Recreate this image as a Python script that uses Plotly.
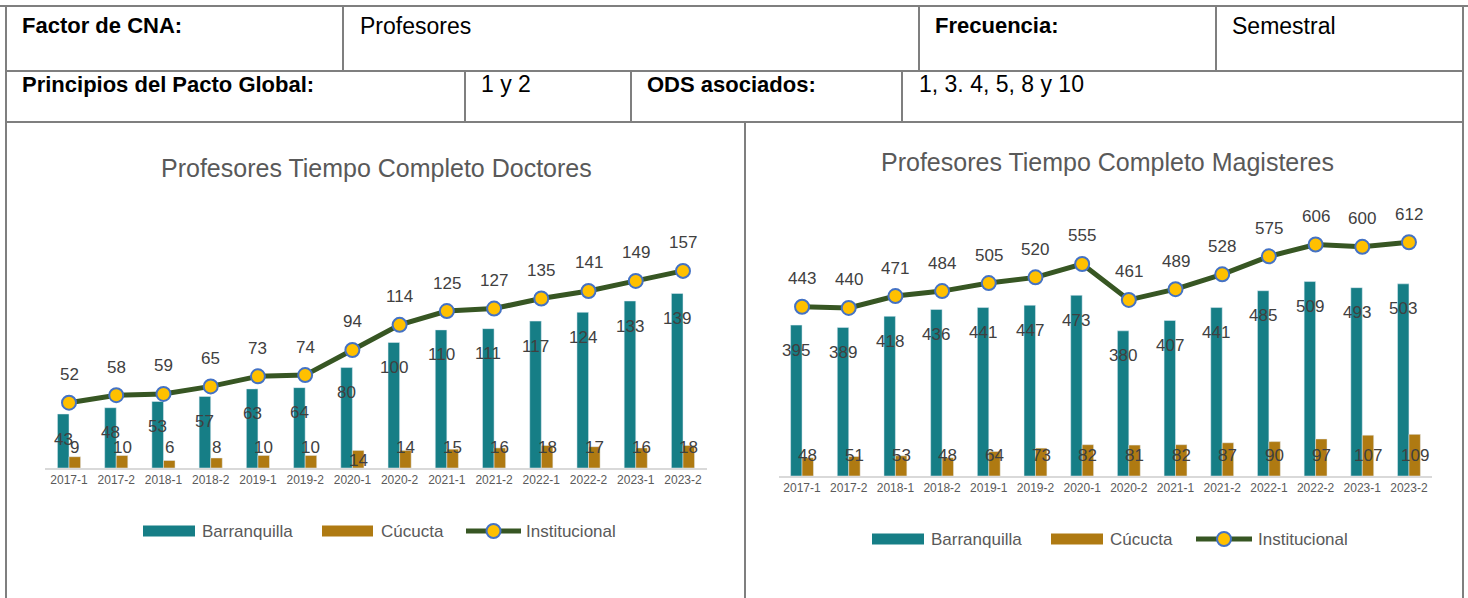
import plotly.graph_objects as go

# --- data ---------------------------------------------------------------
periodos = ["2017-1", "2017-2", "2018-1", "2018-2", "2019-1", "2019-2", "2020-1",
            "2020-2", "2021-1", "2021-2", "2022-1", "2022-2", "2023-1", "2023-2"]

doc_barranquilla = [43, 48, 53, 57, 63, 64, 80, 100, 110, 111, 117, 124, 133, 139]
doc_cucuta = [9, 10, 6, 8, 10, 10, 14, 14, 15, 16, 18, 17, 16, 18]
doc_institucional = [52, 58, 59, 65, 73, 74, 94, 114, 125, 127, 135, 141, 149, 157]

mag_barranquilla = [395, 389, 418, 436, 441, 447, 473, 380, 407, 441, 485, 509, 493, 503]
mag_cucuta = [48, 51, 53, 48, 64, 73, 82, 81, 82, 87, 90, 97, 107, 109]
mag_institucional = [443, 440, 471, 484, 505, 520, 555, 461, 489, 528, 575, 606, 600, 612]

series_names = ["Barranquilla", "Cúcucta", "Institucional"]
titles = ["Profesores Tiempo Completo Doctores", "Profesores Tiempo Completo Magisteres"]

# header table text: (text, x px, bold)
row1 = [("Factor de CNA:", 20, True), ("Profesores", 358, False),
        ("Frecuencia:", 933, True), ("Semestral", 1230, False)]
row2 = [("Principios del Pacto Global:", 20, True), ("1 y 2", 479, False),
        ("ODS asociados:", 645, True), ("1, 3. 4, 5, 8 y 10", 917, False)]

# --- style ---------------------------------------------------------------
W, H = 1468, 598
TEAL = "#167E86"
GOLD = "#AF7A12"
GREEN = "#375623"
YELLOW = "#FFC000"
BLUE = "#4472C4"
GRID = "#7F7F7F"
FONT = "Liberation Sans, Arial, sans-serif"


def px(x):
    return x / W


def py(y):
    return 1 - y / H


fig = go.Figure()

charts = [
    dict(baq=doc_barranquilla, cuc=doc_cucuta, inst=doc_institucional,
         xa="x", ya="y", x0=45.4, x1=706.6, base=468, top=242, ymax=180,
         title_x=376, title_y=168, leg_y=531, cuc_shift=[21] * 6 + [8] + [21] * 7,
         leg=[(143, 195, 200), (322, 373, 379), (466, 521, 524)]),
    dict(baq=mag_barranquilla, cuc=mag_cucuta, inst=mag_institucional,
         xa="x2", ya="y2", x0=778.7, x1=1432.3, base=476, top=227.7, ymax=650,
         title_x=1107, title_y=162, leg_y=539, cuc_shift=[21] * 14,
         leg=[(872, 924, 929), (1051, 1103, 1108), (1196, 1252, 1256)]),
]

annotations = []
shapes = []

for i, c in enumerate(charts):
    fig.add_trace(go.Bar(x=periodos, y=c["baq"], name=series_names[0], marker_color=TEAL,
                         xaxis=c["xa"], yaxis=c["ya"], showlegend=False))
    fig.add_trace(go.Bar(x=periodos, y=c["cuc"], name=series_names[1], marker_color=GOLD,
                         xaxis=c["xa"], yaxis=c["ya"], showlegend=False))
    fig.add_trace(go.Scatter(x=periodos, y=c["inst"], name=series_names[2], mode="lines+markers",
                             line=dict(color=GREEN, width=5),
                             marker=dict(size=14, color=YELLOW, line=dict(color=BLUE, width=2)),
                             xaxis=c["xa"], yaxis=c["ya"], showlegend=False))

    step = (c["x1"] - c["x0"]) / len(periodos)
    off = step * 0.49 / 4
    lab = dict(showarrow=False, font=dict(family=FONT, size=17, color="#404040"),
               xref=c["xa"], yref=c["ya"], xanchor="center", yanchor="middle")
    for k, p in enumerate(periodos):
        annotations.append(dict(x=p, y=c["baq"][k], text=str(c["baq"][k]),
                                xshift=-off, yshift=-25, **lab))
        annotations.append(dict(x=p, y=0, text=str(c["cuc"][k]),
                                xshift=off, yshift=c["cuc_shift"][k], **lab))
        annotations.append(dict(x=p, y=c["inst"][k], text=str(c["inst"][k]),
                                yshift=28, **lab))

    xname = "xaxis" if i == 0 else "xaxis2"
    yname = "yaxis" if i == 0 else "yaxis2"
    fig.update_layout(**{
        xname: dict(domain=[px(c["x0"]), px(c["x1"])], anchor=c["ya"], type="category",
                    range=[-0.5, len(periodos) - 0.5],
                    showline=True, linecolor="#D9D9D9", linewidth=2, ticks="",
                    tickfont=dict(family=FONT, size=12, color="#595959"), fixedrange=True),
        yname: dict(domain=[py(c["base"]), py(c["top"])], anchor=c["xa"], range=[0, c["ymax"]],
                    visible=False, showgrid=False, fixedrange=True),
    })

    annotations.append(dict(x=px(c["title_x"]), y=py(c["title_y"]), xref="paper", yref="paper",
                            text=titles[i], showarrow=False, xanchor="center", yanchor="middle",
                            font=dict(family=FONT, size=25, color="#595959")))

    # legend drawn by hand to get Excel-like wide swatches
    ly = c["leg_y"]
    for (a, b, tx), col in zip(c["leg"][:2], [TEAL, GOLD]):
        shapes.append(dict(type="rect", xref="paper", yref="paper", x0=px(a), x1=px(b),
                           y0=py(ly + 5.5), y1=py(ly - 5.5), fillcolor=col, line_width=0))
    a, b, tx = c["leg"][2]
    shapes.append(dict(type="line", xref="paper", yref="paper", x0=px(a), x1=px(b),
                       y0=py(ly), y1=py(ly), line=dict(color=GREEN, width=5)))
    mx = (a + b) / 2
    shapes.append(dict(type="circle", xref="paper", yref="paper", x0=px(mx - 7), x1=px(mx + 7),
                       y0=py(ly + 7), y1=py(ly - 7), fillcolor=YELLOW,
                       line=dict(color=BLUE, width=2)))
    for (a, b, tx), name in zip(c["leg"], series_names):
        annotations.append(dict(x=px(tx), y=py(ly), xref="paper", yref="paper", text=name,
                                xanchor="left", yanchor="middle", showarrow=False,
                                font=dict(family=FONT, size=17, color="#595959")))

# --- header table --------------------------------------------------------
def hline(x0, x1, y):
    shapes.append(dict(type="line", xref="paper", yref="paper", x0=px(x0), x1=px(x1),
                       y0=py(y), y1=py(y), line=dict(color=GRID, width=2)))


def vline(x, y0, y1):
    shapes.append(dict(type="line", xref="paper", yref="paper", x0=px(x), x1=px(x),
                       y0=py(y0), y1=py(y1), line=dict(color=GRID, width=2)))


hline(0, W, 6)
hline(6, 1463, 71)
hline(6, 1463, 122)
vline(6, 6, H + 2)
vline(1463, 6, H + 2)
vline(343, 6, 71)
vline(919, 6, 71)
vline(1216, 6, 71)
vline(465, 71, 122)
vline(631, 71, 122)
vline(902, 71, 122)
vline(745, 122, H + 2)

for row, yc in [(row1, 26), (row2, 84)]:
    for text, x, bold in row:
        annotations.append(dict(x=px(x), y=py(yc), xref="paper", yref="paper",
                                text=f"<b>{text}</b>" if bold else text,
                                xanchor="left", yanchor="middle", showarrow=False,
                                font=dict(family=FONT, size=22 if bold else 23, color="#000000")))

fig.update_layout(
    width=W, height=H, margin=dict(l=0, r=0, t=0, b=0),
    paper_bgcolor="white", plot_bgcolor="white",
    barmode="group", bargap=0.51, bargroupgap=0,
    annotations=annotations, shapes=shapes,
)

fig.write_html("out.html", config={"displayModeBar": False},
               post_script="document.body.style.margin='0';document.body.style.overflow='hidden';")
